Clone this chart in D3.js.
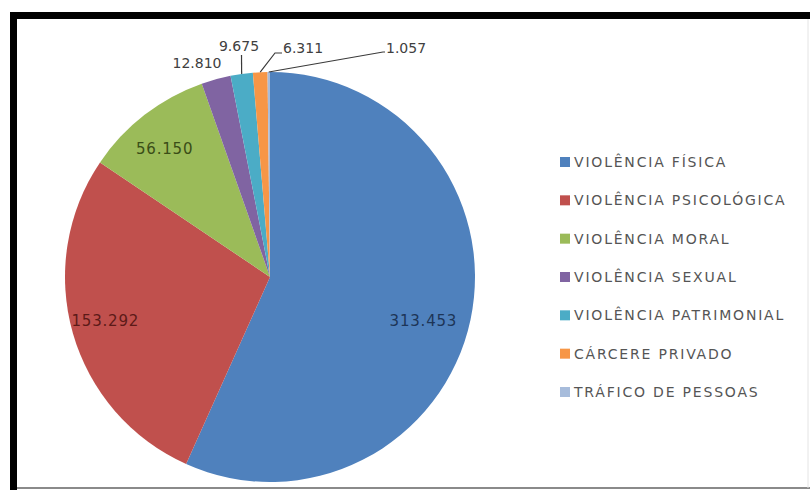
<!DOCTYPE html>
<html>
<head>
<meta charset="utf-8">
<script src="https://cdn.jsdelivr.net/npm/d3@7"></script>
<style>
  body { margin: 0; background: #fff; }
  svg { display: block; }
</style>
</head>
<body>
<svg id="chart"></svg>
<script>
// data
const categories = ["VIOLÊNCIA FÍSICA", "VIOLÊNCIA PSICOLÓGICA", "VIOLÊNCIA MORAL",
  "VIOLÊNCIA SEXUAL", "VIOLÊNCIA PATRIMONIAL", "CÁRCERE PRIVADO", "TRÁFICO DE PESSOAS"];
const values = [313453, 153292, 56150, 12810, 9675, 6311, 1057];
const valueLabels = ["313.453", "153.292", "56.150", "12.810", "9.675", "6.311", "1.057"];
const colors = ["#4f81bd", "#c0504d", "#9bbb59", "#8064a2", "#4bacc6", "#f79646", "#a7bcdb"];

const width = 810, height = 490;
const cx = 270, cy = 277, radius = 205;

const svg = d3.select("#chart").attr("width", width).attr("height", height);

// frame of the pasted chart
svg.append("rect").attr("x", 10).attr("y", 12).attr("width", 800).attr("height", 7).attr("fill", "#000");
svg.append("rect").attr("x", 10).attr("y", 12).attr("width", 7).attr("height", 478).attr("fill", "#000");
svg.append("line").attr("x1", 17).attr("x2", 810).attr("y1", 488).attr("y2", 488)
  .attr("stroke", "#8a8a8a").attr("stroke-width", 2);
svg.append("line").attr("x1", 808).attr("x2", 808).attr("y1", 19).attr("y2", 488)
  .attr("stroke", "#e4e4e4").attr("stroke-width", 1);

const pie = d3.pie().sort(null).value(d => d);
const arcs = pie(values);
const arc = d3.arc().innerRadius(0).outerRadius(radius);
const labelArc = d3.arc().innerRadius(radius * 0.8).outerRadius(radius * 0.8);

const g = svg.append("g").attr("transform", `translate(${cx},${cy})`);

g.selectAll("path.slice")
  .data(arcs)
  .enter()
  .append("path")
    .attr("class", "slice")
    .attr("d", arc)
    .attr("fill", (d, i) => colors[i]);

// labels inside the three big slices
const insideColors = ["#1d3557", "#5c1a18", "#3a4d17"];
const insideNudge = [[-7, 9], [-7, -1], [-5, 1]];
g.selectAll("text.inside")
  .data(arcs.slice(0, 3))
  .enter()
  .append("text")
    .attr("class", "inside")
    .attr("transform", (d, i) => {
      const c = labelArc.centroid(d);
      return `translate(${c[0] + insideNudge[i][0]},${c[1] + insideNudge[i][1]})`;
    })
    .attr("text-anchor", "middle")
    .attr("dy", "0.35em")
    .attr("font-family", "DejaVu Sans, sans-serif")
    .attr("font-size", 15)
    .attr("letter-spacing", 0.8)
    .attr("fill", (d, i) => insideColors[i])
    .text((d, i) => valueLabels[i]);

// outside labels with leader lines (positions relative to centre)
const outside = [
  {i: 3, elbow: null, tx: -73, ty: -214, anchor: "middle"},
  {i: 4, elbow: [[-28.5, -222]], tx: -31, ty: -231, anchor: "middle"},
  {i: 5, elbow: [[5, -224], [12, -224]], tx: 13, ty: -229, anchor: "start"},
  {i: 6, elbow: [[113, -225], [115, -225]], tx: 116, ty: -229, anchor: "start"}
];
const line = d3.line();
outside.forEach(o => {
  const d = arcs[o.i];
  const a = (d.startAngle + d.endAngle) / 2;
  const p0 = [radius * Math.sin(a), -radius * Math.cos(a)];
  if (o.elbow) {
    g.append("path")
      .attr("d", line([p0, ...o.elbow]))
      .attr("fill", "none")
      .attr("stroke", "#3a3a3a")
      .attr("stroke-width", 1.2);
  }
  g.append("text")
    .attr("x", o.tx).attr("y", o.ty)
    .attr("text-anchor", o.anchor)
    .attr("dy", "0.35em")
    .attr("font-family", "DejaVu Sans, sans-serif")
    .attr("font-size", 14)
    .attr("fill", "#404040")
    .text(valueLabels[o.i]);
});

// legend
const legendY = d3.scalePoint().domain(categories).range([162, 392]);
const legend = svg.append("g");
const rows = legend.selectAll("g.row")
  .data(categories)
  .enter()
  .append("g")
    .attr("class", "row")
    .attr("transform", d => `translate(560,${legendY(d)})`);
rows.append("rect")
  .attr("x", 0).attr("y", -5)
  .attr("width", 10).attr("height", 10)
  .attr("fill", (d, i) => colors[i]);
rows.append("text")
  .attr("x", 14)
  .attr("dy", "0.35em")
  .attr("font-family", "DejaVu Sans, sans-serif")
  .attr("font-size", 14)
  .attr("letter-spacing", 1.8)
  .attr("fill", "#555555")
  .text(d => d);
</script>
</body>
</html>
